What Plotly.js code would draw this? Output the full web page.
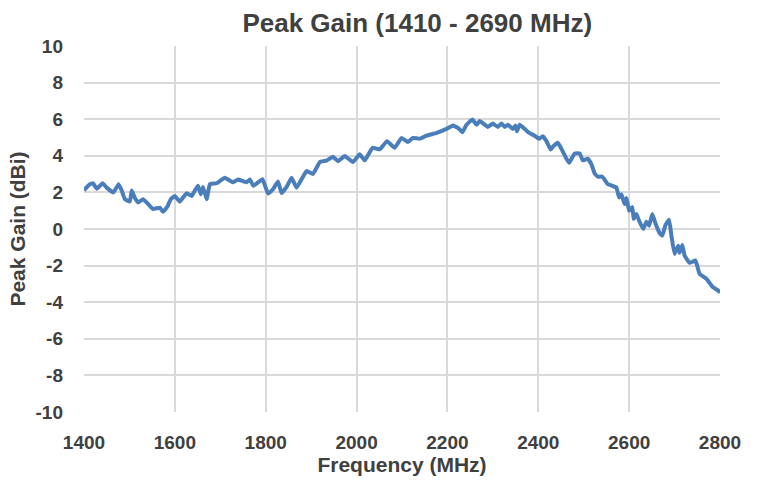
<!DOCTYPE html>
<html>
<head>
<meta charset="utf-8">
<script src="https://cdn.plot.ly/plotly-3.0.1.min.js"></script>
<style>html,body{margin:0;padding:0;background:#fff;}#chart{width:760px;height:483px;}</style>
</head>
<body>
<div id="chart"></div>
<script>
const freqMHz = [1400,1402,1413,1420,1428,1441,1450,1465,1476,1483,1490,1501,1505,1512,1519,1530,1538,1552,1567,1574,1583,1591,1600,1611,1626,1637,1644,1651,1657,1662,1670,1677,1692,1710,1728,1739,1758,1765,1773,1793,1805,1816,1827,1835,1846,1857,1868,1890,1904,1919,1934,1948,1959,1974,1992,2007,2018,2035,2051,2067,2084,2099,2113,2124,2139,2154,2176,2198,2212,2223,2233,2242,2255,2264,2271,2289,2300,2311,2319,2326,2333,2344,2350,2353,2359,2370,2380,2392,2402,2410,2418,2427,2434,2443,2451,2462,2468,2480,2491,2498,2509,2517,2524,2531,2541,2553,2563,2572,2578,2583,2590,2594,2600,2607,2610,2616,2622,2631,2638,2644,2651,2658,2667,2673,2680,2688,2693,2700,2708,2711,2717,2722,2733,2746,2755,2770,2784,2798,2800];
const peakGainDBi = [2.1,2.17,2.45,2.5,2.2,2.5,2.26,2.0,2.45,2.1,1.63,1.5,2.1,1.7,1.45,1.63,1.45,1.09,1.17,0.94,1.2,1.63,1.8,1.5,1.96,1.8,2.1,2.36,1.9,2.3,1.63,2.45,2.5,2.8,2.55,2.7,2.55,2.7,2.36,2.72,1.94,2.17,2.6,1.96,2.3,2.8,2.26,3.17,3.0,3.66,3.74,3.95,3.7,3.99,3.66,4.08,3.75,4.44,4.35,4.8,4.44,4.98,4.75,4.98,4.93,5.1,5.25,5.47,5.65,5.53,5.29,5.7,5.98,5.7,5.9,5.58,5.76,5.58,5.76,5.58,5.7,5.47,5.65,5.34,5.7,5.47,5.25,5.1,4.93,5.07,4.8,4.35,4.55,4.71,4.38,3.84,3.62,4.13,4.13,3.75,3.84,3.53,3.04,2.86,2.86,2.45,2.36,2.26,1.72,1.9,1.36,1.7,0.99,1.2,0.54,0.82,0.45,0.0,0.4,0.18,0.82,0.3,-0.22,-0.36,0.22,0.51,-0.36,-1.36,-0.91,-1.3,-0.87,-1.45,-1.85,-1.72,-2.45,-2.72,-3.17,-3.4,-3.5];
const xTicks = [1400,1600,1800,2000,2200,2400,2600,2800];
const yTicks = [-10,-8,-6,-4,-2,0,2,4,6,8,10];

const fam = '"Liberation Sans", Arial, sans-serif';
const tickFont = {family: fam, size: 19, color: '#404040', weight: 'bold'};
const trace = {
  x: freqMHz, y: peakGainDBi, type: 'scatter', mode: 'lines',
  line: {color: '#4a7ebb', width: 4, shape: 'spline', smoothing: 0.3},
  hoverinfo: 'skip'
};
const layout = {
  width: 760, height: 483,
  margin: {l: 84, r: 40, t: 46, b: 71},
  paper_bgcolor: '#ffffff', plot_bgcolor: '#ffffff',
  showlegend: false,
  title: {text: '<b>Peak Gain (1410 - 2690 MHz)</b>', x: 0.549, xanchor: 'center', y: 0.953, yanchor: 'middle',
          font: {family: fam, size: 26, color: '#404040'}},
  xaxis: {range: [1400, 2800], tickvals: xTicks, ticktext: xTicks.map(String),
          showgrid: true, gridcolor: '#d9d9d9', gridwidth: 2, zeroline: false, showline: false,
          ticks: '', ticklabelstandoff: 17, tickfont: tickFont, fixedrange: true,
          title: {text: '<b>Frequency (MHz)</b>', standoff: 2, font: {family: fam, size: 21, color: '#404040'}}},
  yaxis: {range: [-10, 10], tickvals: yTicks, ticktext: yTicks.map(String),
          showgrid: true, gridcolor: '#d9d9d9', gridwidth: 2, zeroline: false, showline: false,
          ticks: '', ticklabelstandoff: 20, tickfont: tickFont, fixedrange: true,
          title: {text: '<b>Peak Gain (dBi)</b>', standoff: 4, font: {family: fam, size: 21, color: '#404040'}}}
};
Plotly.newPlot('chart', [trace], layout, {displayModeBar: false, staticPlot: true});
</script>
</body>
</html>
